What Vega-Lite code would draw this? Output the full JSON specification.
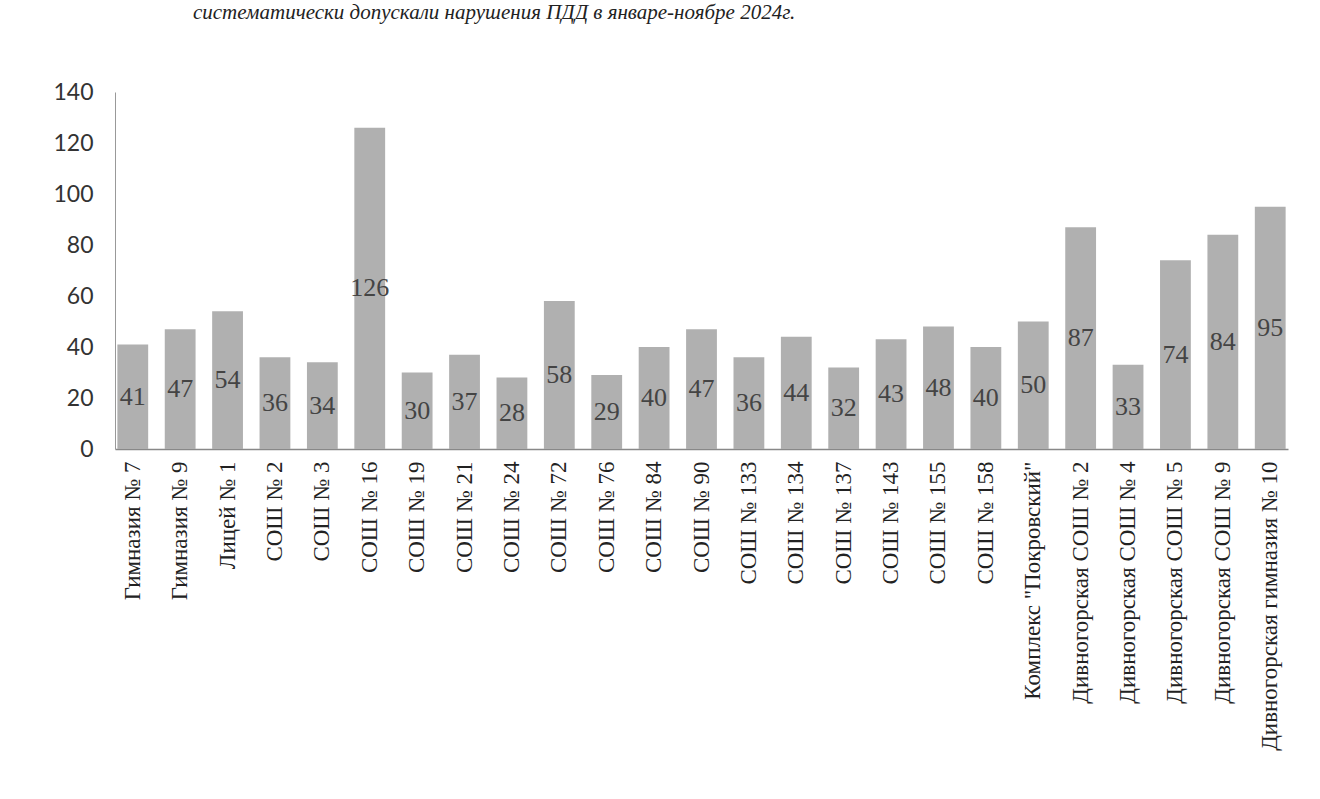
{
  "$schema": "https://vega.github.io/schema/vega-lite/v6.json",
  "autosize": "none",
  "width": 1173,
  "height": 357,
  "padding": {"left": 115, "top": 92, "right": 32, "bottom": 350},
  "background": "white",
  "title": {
    "text": "систематически допускали нарушения ПДД в январе-ноябре 2024г.",
    "font": "Liberation Serif",
    "fontStyle": "italic",
    "fontWeight": "normal",
    "fontSize": 21,
    "color": "#222",
    "anchor": "start",
    "dx": 140,
    "offset": 58
  },
  "data": {
    "values": [
      {"school": "Гимназия № 7", "count": 41},
      {"school": "Гимназия № 9", "count": 47},
      {"school": "Лицей № 1", "count": 54},
      {"school": "СОШ № 2", "count": 36},
      {"school": "СОШ № 3", "count": 34},
      {"school": "СОШ № 16", "count": 126},
      {"school": "СОШ № 19", "count": 30},
      {"school": "СОШ № 21", "count": 37},
      {"school": "СОШ № 24", "count": 28},
      {"school": "СОШ № 72", "count": 58},
      {"school": "СОШ № 76", "count": 29},
      {"school": "СОШ № 84", "count": 40},
      {"school": "СОШ № 90", "count": 47},
      {"school": "СОШ № 133", "count": 36},
      {"school": "СОШ № 134", "count": 44},
      {"school": "СОШ № 137", "count": 32},
      {"school": "СОШ № 143", "count": 43},
      {"school": "СОШ № 155", "count": 48},
      {"school": "СОШ № 158", "count": 40},
      {"school": "Комплекс \"Покровский\"", "count": 50},
      {"school": "Дивногорская СОШ № 2", "count": 87},
      {"school": "Дивногорская СОШ № 4", "count": 33},
      {"school": "Дивногорская СОШ № 5", "count": 74},
      {"school": "Дивногорская СОШ № 9", "count": 84},
      {"school": "Дивногорская гимназия № 10", "count": 95}
    ]
  },
  "encoding": {
    "x": {
      "field": "school",
      "type": "nominal",
      "sort": null,
      "scale": {"paddingInner": 0.35, "paddingOuter": 0.05},
      "axis": {
        "title": null,
        "labelAngle": -90,
        "labelAlign": "right",
        "labelBaseline": "middle",
        "labelFont": "Liberation Serif",
        "labelFontSize": 23,
        "labelColor": "#222",
        "labelPadding": 12,
        "labelLimit": 400,
        "ticks": false,
        "domainColor": "#888",
        "domainWidth": 1.5
      }
    }
  },
  "layer": [
    {
      "mark": {"type": "bar", "color": "#b0b0b0"},
      "encoding": {
        "y": {
          "field": "count",
          "type": "quantitative",
          "scale": {"domain": [0, 140], "nice": false},
          "axis": {
            "title": null,
            "values": [0, 20, 40, 60, 80, 100, 120, 140],
            "grid": false,
            "ticks": false,
            "labelFont": "Lato",
            "labelFontSize": 23,
            "labelColor": "#333",
            "labelPadding": 22,
            "domainColor": "#999",
            "domainWidth": 1
          }
        }
      }
    },
    {
      "mark": {
        "type": "text",
        "font": "Liberation Serif",
        "fontSize": 26,
        "color": "#444444",
        "baseline": "middle",
        "align": "center"
      },
      "encoding": {
        "y": {
          "field": "count",
          "type": "quantitative",
          "scale": {"domain": [0, 280], "nice": false},
          "axis": null
        },
        "text": {"field": "count", "type": "quantitative"}
      }
    }
  ],
  "resolve": {"scale": {"y": "independent"}},
  "config": {"view": {"stroke": null}}
}
